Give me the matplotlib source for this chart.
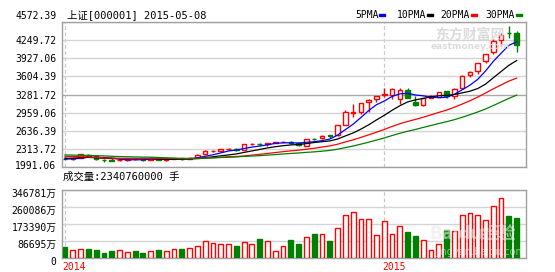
import matplotlib
matplotlib.use("Agg")
import matplotlib.pyplot as plt
import numpy as np
from matplotlib.transforms import ScaledTranslation
from matplotlib.patches import Rectangle

# ---------------- data (weekly, 上证指数) ----------------
opens = [2049, 2043, 2061, 2128, 2093, 2031, 2024, 2016, 2020, 2041, 2036, 2028, 2068, 2022, 2036, 2059,
         2045, 2057, 2134, 2186, 2191, 2225, 2237, 2216, 2327, 2332, 2320, 2348, 2366, 2372, 2349, 2297,
         2431, 2445, 2492, 2490, 2691, 2920, 2935, 3127, 3180, 3258, 3259, 3190, 3353, 3128, 3070, 3212,
         3230, 3332, 3232, 3391, 3640, 3710, 3899, 4072, 4301, 4447, 4440]
highs = [2076, 2063, 2146, 2133, 2097, 2041, 2054, 2054, 2036, 2061, 2043, 2078, 2086, 2037, 2068, 2065,
         2074, 2131, 2206, 2216, 2229, 2248, 2244, 2328, 2346, 2342, 2352, 2364, 2391, 2391, 2368, 2423,
         2447, 2505, 2498, 2683, 2975, 3091, 3116, 3177, 3239, 3387, 3390, 3387, 3384, 3249, 3208, 3251,
         3324, 3336, 3391, 3632, 3715, 3866, 4040, 4317, 4444, 4572.39, 4470]
lows = [2040, 2029, 2055, 2085, 2024, 1991.06, 2001, 2010, 1997, 2027, 2011, 2024, 2021, 2010, 2033, 2032,
        2043, 2052, 2133, 2176, 2186, 2219, 2195, 2212, 2313, 2282, 2288, 2346, 2362, 2334, 2296, 2282,
        2400, 2424, 2446, 2486, 2682, 2836, 2900, 2940, 3135, 3229, 3182, 3095, 3200, 3049, 3050, 3202,
        3215, 3198, 3192, 3377, 3600, 3653, 3871, 4040, 4197, 4340, 4083]
closes = [2046.59, 2058.99, 2130.54, 2097.75, 2036.52, 2026.36, 2011.13, 2026.50, 2034.57, 2039.21,
          2029.51, 2070.71, 2026.67, 2036.51, 2059.38, 2046.96, 2059.08, 2126.61, 2185.30, 2194.42,
          2226.73, 2240.81, 2217.20, 2326.43, 2331.95, 2329.45, 2347.72, 2363.87, 2374.54, 2341.18,
          2302.28, 2420.18, 2418.17, 2478.82, 2486.79, 2682.84, 2937.65, 2938.17, 3108.60, 3157.60,
          3234.68, 3285.41, 3376.50, 3351.76, 3210.36, 3075.91, 3203.83, 3246.91, 3310.30, 3241.19,
          3372.91, 3617.32, 3691.10, 3863.93, 4034.31, 4287.30, 4393.69, 4441.66, 4205.92]
volumes = [63900, 46500, 52300, 52300, 46500, 29000, 40700, 44700, 33100, 40700, 29000, 38900, 46500,
           38900, 50500, 52300, 58100, 68000, 97000, 85400, 79600, 79600, 68000, 88900, 77300, 108600,
           94700, 36600, 65700, 102800, 79600, 117900, 137700, 141200, 97000, 176000, 251600, 269000,
           228300, 228300, 129600, 213200, 139400, 185900, 151100, 127800, 104600, 46500, 81300, 162700,
           156900, 249800, 259100, 251600, 220800, 302100, 346781, 245800, 234076]
ma5 = [2043, 2043, 2058, 2076, 2074, 2070, 2060, 2040, 2027, 2028, 2028, 2040, 2040, 2041, 2045, 2048,
       2046, 2066, 2095, 2122, 2158, 2195, 2213, 2241, 2269, 2289, 2311, 2340, 2350, 2351, 2346, 2360,
       2371, 2392, 2421, 2497, 2601, 2705, 2831, 2965, 3075, 3145, 3233, 3281, 3292, 3260, 3244, 3218,
       3209, 3216, 3275, 3358, 3447, 3557, 3716, 3899, 4054, 4204, 4273]
ma10 = [2057, 2058, 2068, 2073, 2065, 2056, 2052, 2049, 2052, 2051, 2049, 2050, 2040, 2034, 2036, 2038,
        2043, 2053, 2068, 2084, 2103, 2120, 2139, 2168, 2196, 2224, 2253, 2276, 2295, 2310, 2318, 2335,
        2356, 2371, 2386, 2422, 2481, 2538, 2611, 2693, 2786, 2873, 2969, 3056, 3128, 3168, 3194, 3225,
        3245, 3254, 3268, 3301, 3332, 3383, 3466, 3587, 3706, 3825, 3915]
ma20 = [2094, 2090, 2087, 2081, 2071, 2062, 2059, 2055, 2051, 2052, 2053, 2054, 2054, 2053, 2051, 2047,
        2047, 2051, 2060, 2067, 2076, 2085, 2090, 2101, 2116, 2131, 2148, 2165, 2182, 2197, 2210, 2228,
        2247, 2270, 2291, 2323, 2367, 2407, 2453, 2502, 2552, 2604, 2662, 2713, 2757, 2795, 2837, 2882,
        2928, 2973, 3027, 3087, 3150, 3220, 3297, 3377, 3450, 3525, 3580]
ma30 = [2120, 2117, 2114, 2110, 2106, 2101, 2094, 2089, 2085, 2082, 2079, 2077, 2071, 2065, 2059, 2054,
        2053, 2054, 2056, 2063, 2070, 2076, 2082, 2092, 2099, 2106, 2116, 2126, 2138, 2148, 2157, 2169,
        2178, 2191, 2206, 2228, 2259, 2289, 2325, 2362, 2402, 2443, 2488, 2532, 2570, 2604, 2643, 2680,
        2717, 2752, 2790, 2836, 2885, 2937, 2993, 3059, 3127, 3196, 3257]

price_tick_labels = ["1991.06", "2313.72", "2636.39", "2959.06", "3281.72",
                     "3604.39", "3927.06", "4249.72", "4572.39"]
vol_tick_labels = ["0", "86695万", "173390万", "260086万", "346781万"]
year_labels = ["2014", "2015"]
year_first_bar = [0, 41]
title_text = "上证[000001] 2015-05-08"
volume_text = "成交量:2340760000 手"
ma_names = ["5PMA", "10PMA", "20PMA", "30PMA"]
ma_colors = ["#0000FF", "#000000", "#FF0000", "#008000"]

# ---------------- layout ----------------
RED, GREEN = "#FF0000", "#008000"
W, H = 555, 272
MONO = ["DejaVu Sans Mono", "Noto Sans CJK SC"]
fig = plt.figure(figsize=(W / 100, H / 100), dpi=100)
fig.patch.set_facecolor("white")


def frac(l, t, r, b):
    return [l / W, 1 - b / H, (r - l) / W, (b - t) / H]


axp = fig.add_axes(frac(62, 22, 526, 167.3))
axv = fig.add_axes(frac(62, 190, 526, 257.7))

n = len(closes)
x = np.arange(n)
o = np.array(opens, float); c = np.array(closes, float)
hi = np.array(highs, float); lo = np.array(lows, float)
up = c >= o
cols = np.where(up, RED, GREEN)
face = np.where(up, "white", GREEN)

# price axis limits: data is inset inside the panel, labels evenly spread
pmin, pmax = min(lows), max(highs)
per_px = (pmax - pmin) / 135.7
ylo, yhi = pmin - 5.6 * per_px, pmax + 4.0 * per_px

for ax in (axp, axv):
    ax.set_xlim(-0.386, 59.2)
    ax.set_xticks([])
    for s in ax.spines.values():
        s.set_color("#A0A0A0")
        s.set_linewidth(1.0)
    for xb in year_first_bar:
        ax.axvline(xb, color="#C8C8C8", lw=0.9, ls=(0, (3, 2)), zorder=1)

axp.set_ylim(ylo, yhi)
axp.set_yticks(np.linspace(ylo, yhi, 9))
axp.set_yticklabels(price_tick_labels, family=MONO, fontsize=7)
axp.tick_params(axis="y", length=0, pad=4)
axp.grid(axis="y", color="#D4D4D4", lw=1.0, zorder=0)
axp.get_ygridlines()[4].set_color("#A8A8A8")
lbls = axp.get_yticklabels()
lbls[-1].set_transform(lbls[-1].get_transform() + ScaledTranslation(0, 7 / 100, fig.dpi_scale_trans))
lbls[0].set_transform(lbls[0].get_transform() + ScaledTranslation(0, 2 / 100, fig.dpi_scale_trans))

# candles
body_lo = np.minimum(o, c); body_hi = np.maximum(o, c)
axp.vlines(x, lo, body_lo, colors=cols, lw=1.0, zorder=2)
axp.vlines(x, body_hi, hi, colors=cols, lw=1.0, zorder=2)
hgt = np.maximum(body_hi - body_lo, 0.5)
axp.bar(x, hgt, bottom=body_lo, width=0.58, color=face, edgecolor=cols, lw=1.0, zorder=3)

# moving averages
for ma, col in zip([ma5, ma10, ma20, ma30], ma_colors):
    axp.plot(x, ma, color=col, lw=0.9, zorder=4)

# volume
vtop = 68 * 5810
axv.set_ylim(0, vtop)
axv.set_yticks(np.linspace(0, vtop, 5))
axv.set_yticklabels(vol_tick_labels, family=MONO, fontsize=7)
axv.tick_params(axis="y", length=0, pad=4)
axv.grid(axis="y", color="#D4D4D4", lw=1.0, zorder=0)
for lb in axv.get_yticklabels():
    lb.set_transform(lb.get_transform() + ScaledTranslation(0, -3 / 100, fig.dpi_scale_trans))
axv.bar(x, volumes, width=0.62, color=face, edgecolor=cols, lw=1.0, zorder=3)

# year labels
for yl, xb in zip(year_labels, year_first_bar):
    axv.text(xb - 0.3, -0.14, yl, transform=axv.get_xaxis_transform(), color=RED,
             family=MONO, fontsize=7, ha="left", va="center")

# texts
fig.text(67 / W, 1 - 15 / H, title_text, family=MONO, fontsize=7.5, va="center", ha="left")
fig.text(63 / W, 1 - 177 / H, volume_text, family=MONO, fontsize=7.5, va="center", ha="left")

legend_x = [355, 396.7, 440.7, 485.7]
for lx, name, col in zip(legend_x, ma_names, ma_colors):
    fig.text(lx / W, 1 - 15 / H, name, family=MONO, fontsize=7, va="center", ha="left")
    wtxt = len(name) * 5.85
    fig.patches.append(Rectangle(((lx + wtxt + 1) / W, 1 - 16 / H), 6 / W, 2.5 / H,
                                 transform=fig.transFigure, color=col))

# watermarks
fig.text(470 / W, 1 - 35 / H, "东方财富网", family=["Noto Sans CJK SC"], fontsize=10, weight="bold",
         color="#D8D8D8", ha="center", va="center", alpha=0.9, zorder=0)
fig.text(470 / W, 1 - 46 / H, "eastmoney.com", family=["DejaVu Sans"], fontsize=6.5, weight="bold",
         color="#D8D8D8", ha="center", va="center", alpha=0.9, zorder=0)
fig.text(473 / W, 1 - 234 / H, "Baidu经验", family=["DejaVu Sans", "Noto Sans CJK SC"], fontsize=12,
         weight="bold", color="#E8E8E8", ha="center", va="center", alpha=0.6)
fig.text(480 / W, 1 - 252 / H, "jingyan.baidu.com", family=["DejaVu Sans"], fontsize=7,
         color="#E8E8E8", ha="center", va="center", alpha=0.6)

fig.savefig("out.png", dpi=100, facecolor="white")
